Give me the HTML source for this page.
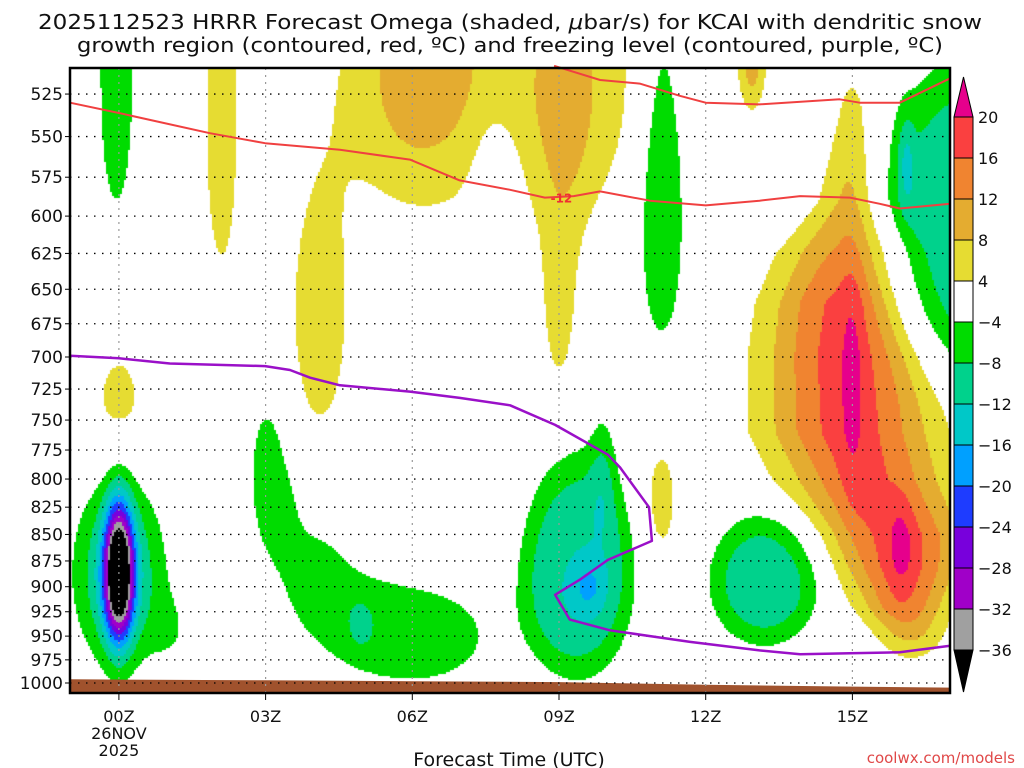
<!DOCTYPE html>
<html><head><meta charset="utf-8">
<style>
html,body{margin:0;padding:0;background:#fff;}
#wrap{position:relative;width:1024px;height:768px;overflow:hidden;}
canvas,svg{position:absolute;left:0;top:0;}
</style></head>
<body>
<div id="wrap">
<canvas id="cv" width="1024" height="768"></canvas>
<svg id="sv" width="1024" height="768" xmlns="http://www.w3.org/2000/svg"
 font-family="'DejaVu Sans','Liberation Sans',sans-serif"></svg>
</div>
<script>
// ---- data ----
const levels = [-36,-32,-28,-24,-20,-16,-12,-8,-4,4,8,12,16,20];
const levelColors = ['#000000','#a0a0a0','#a000c8','#7800dc','#1e3cff','#00a0ff','#00c8c8','#00d28c','#00dc00','#ffffff','#e6dc32','#e4ac30','#f08430','#fa4040','#e6008c'];
const pressureTicks = [525,550,575,600,625,650,675,700,725,750,775,800,825,850,875,900,925,950,975,1000];
const timeTicks = [0,3,6,9,12,15];
const timeLabels = ['00Z','03Z','06Z','09Z','12Z','15Z'];
// omega blobs (hour, pressure, amplitude, hour-width, pressure-width, shape exponent)
const blobH   = [-0.05,0,0,1.1,11.1,17.6,16.1,3.05,3.3,4.0,4.8,6.0,4.95,9.4,9.6,9.9,13.2,0,2.1,4.1,6.0,9.0,9.15,9.1,9.0,7.7,12.95,11.1,15.0,16.0];
const blobP   = [515,887,887,945,570,610,565,780,830,885,925,950,940,885,900,790,895,738,540,670,515,515,530,600,670,570,505,815,710,860];
const blobAmp = [-7,-14,-40,-3,-9,-12,-6,-5.5,-5,-5.5,-2.5,-6,-4,-11,-6,-5,-10,5.5,6,6,9,7,4,2,5,-4,10,5.5,4,4];
const blobSH  = [0.3,0.6,0.2,0.35,0.38,1.8,0.12,0.3,0.35,0.5,0.6,1.5,0.15,0.98,0.25,0.2,0.97,0.5,0.33,0.55,1.0,1.7,0.35,0.5,0.28,0.35,0.2,0.3,0.18,0.18];
const blobSP  = [70,60,45,30,90,90,20,45,35,35,30,50,15,92,20,40,56,45,95,85,55,60,40,50,50,30,20,50,70,30];
const blobK   = [1,1,1,1,1,2,1,1,1,1,1,1,1,2,1,1,2,1,1,1,1,1,1,1,1,1,1,1,1,1];
// upward-motion ridge near 15Z
const ridgeP   = [490,530,590,625,660,700,760,800,850,880,920,960,990];
const ridgeH   = [15.0,15.0,14.95,14.9,14.8,14.85,14.95,15.3,15.9,16.0,16.05,16.2,16.2];
const ridgeAmp = [0,5,9,13,17,18,18,17,18,18,15,7,0];
const ridgeSH  = [0.25,0.3,0.5,0.95,1.05,1.15,1.2,1.15,1.0,0.85,0.65,0.5,0.4];
// surface
const sfcH = [-1,3,6,9,12,15,17];
const sfcP = [996,997,998,999,1002,1004,1005];
// -12C lines
const redLowH = [-1,0,1.86,2.99,4.52,5.95,6.97,8.0,8.71,9.3,9.84,10.86,12.0,13.1,13.93,14.95,15.56,15.97,17];
const redLowP = [530,536,548,554,558,564,577,583,588,587,584,590,593,590,587,588,592,595,592];
const redUpH = [8.9,9.84,10.65,11.47,12.0,13.1,14.74,15.15,15.97,17.0];
const redUpP = [509,517,519,526,530,531,528,530,530,516];
// freezing level
const purH = [-1,0,1.04,2.99,3.5,3.91,4.52,5.95,6.97,8.0,8.92,10.0,10.25,10.84,10.9,10.0,9.43,8.92,9.22,10.04,11.68,13.1,13.93,14.95,15.97,17];
const purP = [699,701,705,707,710,716,722,727,732,738,754,779,790,825,856,874,893,908,933,944,956,965,969,968,967,960];

// ---- axes ----
const X0=70, X1=950, Y0=68, Y1=693;
function xOf(h){return X0+(h+1)*48.9;}
function yOf(p){return 683-914*Math.log(1000/p);}
function hOf(x){return (x-X0)/48.9-1;}
function pOf(y){return 1000*Math.exp(-(683-y)/914);}

function interp(arrX, arrY, v){
  for(let i=0;i<arrX.length-1;i++){
    if(v>=arrX[i]&&v<=arrX[i+1]){const t=(v-arrX[i])/(arrX[i+1]-arrX[i]);return arrY[i]+t*(arrY[i+1]-arrY[i]);}
  }
  return null;
}
function field(h,p){
  let v=0;
  for(let i=0;i<blobH.length;i++){
    const dh=(h-blobH[i])/blobSH[i], dp=(p-blobP[i])/blobSP[i];
    const r2=dh*dh+dp*dp;
    v+=blobAmp[i]*Math.exp(-0.5*Math.pow(r2,blobK[i]));
  }
  if(p>=ridgeP[0]&&p<=ridgeP[ridgeP.length-1]){
    const hc=interp(ridgeP,ridgeH,p),a=interp(ridgeP,ridgeAmp,p),s=interp(ridgeP,ridgeSH,p);
    const d=(h-hc)/s; v+=a*Math.exp(-0.5*d*d);
  }
  return v;
}
function colorOf(v){
  let i=0; while(i<levels.length && v>=levels[i]) i++;
  return levelColors[i];
}
// ---- shading ----
const ctx=document.getElementById('cv').getContext('2d');
ctx.fillStyle='#fff';ctx.fillRect(0,0,1024,768);
const st=2;
for(let y=Y0;y<Y1;y+=st){
  const p=pOf(y+st/2);
  for(let x=X0;x<X1;x+=st){
    const c=colorOf(field(hOf(x+st/2),p));
    if(c!=='#ffffff'){ctx.fillStyle=c;ctx.fillRect(x,y,st,st);}
  }
}
// ---- svg ----
const NS='http://www.w3.org/2000/svg';
const sv=document.getElementById('sv');
function mk(tag,attrs,parent){const e=document.createElementNS(NS,tag);for(const k in attrs)e.setAttribute(k,attrs[k]);(parent||sv).appendChild(e);return e;}

// ground
let gd='M'+X0+','+Y1;
sfcH.forEach((h,i)=>{gd+=' L'+xOf(h).toFixed(1)+','+Math.min(Y1,yOf(sfcP[i])).toFixed(1);});
gd+=' L'+X1+','+Y1+' Z';
const ground=mk('path',{d:gd,fill:'#a0522d'});



// grid
const grid=mk('g',{});


pressureTicks.forEach(p=>{
  const y=yOf(p);
  mk('line',{x1:X0,x2:X1,y1:y,y2:y,stroke:'#000','stroke-width':1.3,'stroke-dasharray':'1.5,6.5'},grid);
});
timeTicks.forEach(h=>{
  const x=xOf(h);
  mk('line',{x1:x,x2:x,y1:Y0,y2:Y1,stroke:'#999','stroke-width':1.2,'stroke-dasharray':'2,5'},grid);
});

function poly(hs,ps,color,w,name){
  const pts=hs.map((h,i)=>xOf(h).toFixed(1)+','+yOf(ps[i]).toFixed(1)).join(' ');
  const e=mk('polyline',{points:pts,fill:'none',stroke:color,'stroke-width':w,'stroke-linejoin':'round'});
  
  
}
poly(redLowH,redLowP,'#f04040',2,'dendritic-lower-contour');
poly(redUpH,redUpP,'#f04040',2,'dendritic-upper-contour');
poly(purH,purP,'#9a10c8',2.5,'freezing-level-contour');
const lbl=mk('text',{x:xOf(9.05),y:yOf(588)+5,fill:'#f03030','font-size':12,'font-weight':'bold','text-anchor':'middle'});
lbl.textContent='-12';



// frame
const fr=mk('rect',{x:X0,y:Y0,width:X1-X0,height:Y1-Y0,fill:'none',stroke:'#000','stroke-width':2.5});



// y labels
pressureTicks.forEach(p=>{
  const y=yOf(p);
  mk('line',{x1:X0-5,x2:X0,y1:y,y2:y,stroke:'#000','stroke-width':1});
  const t=mk('text',{x:X0-7,y:y+6,'font-size':17,'text-anchor':'end',fill:'#111'});
  t.textContent=p;
  
  
});
// x labels
timeTicks.forEach((h,i)=>{
  const x=xOf(h);
  mk('line',{x1:x,x2:x,y1:Y1,y2:Y1+7,stroke:'#000','stroke-width':1});
  const t=mk('text',{x:x,y:722,'font-size':16,'text-anchor':'middle',fill:'#111'});
  t.textContent=timeLabels[i];
  
  
});
[['26NOV',739],['2025',756]].forEach(a=>{
  const t=mk('text',{x:xOf(0),y:a[1],'font-size':16,'text-anchor':'middle',fill:'#111'});
  t.textContent=a[0];
  
  
});
const xt=mk('text',{x:509,y:766,'font-size':19,'text-anchor':'middle',fill:'#111'});
xt.textContent='Forecast Time (UTC)';


const cr=mk('text',{x:1015,y:763,'font-size':15,'text-anchor':'end',fill:'#e04848'});
cr.textContent='coolwx.com/models';



// title
const t1=mk('text',{x:38,y:29,'font-size':20,fill:'#111',textLength:944,lengthAdjust:'spacingAndGlyphs'});
t1.innerHTML='2025112523 HRRR Forecast Omega (shaded, <tspan font-style="italic">μ</tspan>bar/s) for KCAI with dendritic snow';


const t2=mk('text',{x:77,y:52,'font-size':20,fill:'#111',textLength:866,lengthAdjust:'spacingAndGlyphs'});
t2.textContent='growth region (contoured, red, ºC) and freezing level (contoured, purple, ºC)';



// colorbar
const cb=mk('g',{});


const cbX=954, cbW=19, cbTop=117, cbStep=41;
mk('path',{d:`M${cbX},${cbTop} L${cbX+cbW/2},77 L${cbX+cbW},${cbTop} Z`,fill:levelColors[14],stroke:'#000','stroke-width':1},cb);
for(let i=0;i<13;i++){
  const ci=13-i;
  const y=cbTop+i*cbStep;
  mk('rect',{x:cbX,y:y,width:cbW,height:cbStep,fill:levelColors[ci],stroke:'#000','stroke-width':1},cb);
}
const cbBot=cbTop+13*cbStep;
mk('path',{d:`M${cbX},${cbBot} L${cbX+cbW/2},692 L${cbX+cbW},${cbBot} Z`,fill:levelColors[0],stroke:'#000','stroke-width':1},cb);
for(let i=0;i<14;i++){
  const lv=levels[13-i];
  const y=cbTop+i*cbStep;
  const t=mk('text',{x:cbX+cbW+5,y:y+6,'font-size':16,fill:'#111'},cb);
  t.textContent=lv<0?'\u2212'+(-lv):String(lv);
  
  
}
</script>
</body></html>
